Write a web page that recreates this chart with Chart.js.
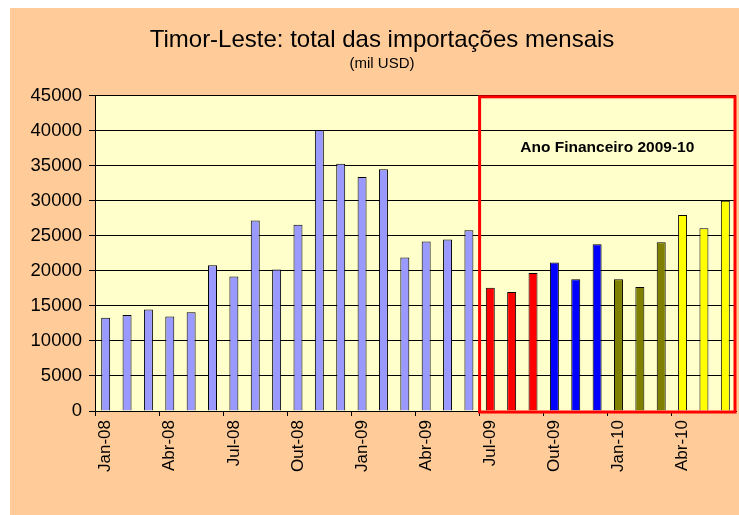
<!DOCTYPE html>
<html>
<head>
<meta charset="utf-8">
<script src="https://cdn.jsdelivr.net/npm/chart.js@4/dist/chart.umd.min.js"></script>
<style>
    html, body { margin: 0; padding: 0; background: #FFFFFF; overflow: hidden; }
    #wrap { position: absolute; left: 10px; top: 8px; width: 729px; height: 507px; background: #FFCC99; }
</style>
</head>
<body>
<div id="wrap"><canvas id="importChart"></canvas></div>
<script>
/*----------------------------------------------------------------*/
const months = ["Jan-08", "Fev-08", "Mar-08", "Abr-08", "Mai-08", "Jun-08", "Jul-08", "Ago-08", "Set-08", "Out-08", "Nov-08", "Dez-08",
    "Jan-09", "Fev-09", "Mar-09", "Abr-09", "Mai-09", "Jun-09", "Jul-09", "Ago-09", "Set-09", "Out-09", "Nov-09", "Dez-09",
    "Jan-10", "Fev-10", "Mar-10", "Abr-10", "Mai-10", "Jun-10"];
const imports = [13300, 13700, 14500, 13500, 14100, 20800, 19200, 27200, 20200, 26600, 40100, 35300,
    33400, 34500, 21900, 24200, 24500, 25800, 17600, 17000, 19700, 21200, 18800, 23800,
    18800, 17700, 24100, 28000, 26100, 30000];
const yTicks = [0, 5000, 10000, 15000, 20000, 25000, 30000, 35000, 40000, 45000];
const fiscalStart = 18; // Jul-09
const fiscalLabel = "Ano Financeiro 2009-10";

const baseColor = "#9999FF";
const quarterColors = ["#FF0000", "#0000FF", "#808000", "#FFFF00"];
const barColors = imports.map((v, i) => i < fiscalStart ? baseColor : quarterColors[Math.floor((i - fiscalStart) / 3)]);

const fontFamily = "'Liberation Sans', Arial, sans-serif";

/*----------------------------------------------------------------*/
const fiscalBox = {
    id: "fiscalBox",
    afterDatasetsDraw(chart) {
        const { ctx, chartArea, scales } = chart;
        const x = scales.x, y = scales.y;
        const left = (x.getPixelForValue(fiscalStart - 1) + x.getPixelForValue(fiscalStart)) / 2;
        const right = chartArea.right - 1;
        ctx.save();
        ctx.strokeStyle = "#FF0000";
        ctx.lineWidth = 3;
        ctx.strokeRect(left, chartArea.top + 1, right - left, chartArea.bottom - chartArea.top);
        ctx.font = "bold 15.5px " + fontFamily;
        ctx.fillStyle = "#000";
        ctx.textAlign = "center";
        ctx.textBaseline = "middle";
        ctx.fillText(fiscalLabel, (left + right) / 2, y.getPixelForValue(37600));
        ctx.restore();
    }
};

const plotBg = {
    id: "plotBg",
    beforeDraw(chart) {
        const { ctx, chartArea } = chart;
        ctx.save();
        ctx.fillStyle = "#FFFFCC";
        ctx.fillRect(chartArea.left, chartArea.top, chartArea.right - chartArea.left, chartArea.bottom - chartArea.top);
        ctx.restore();
    }
};

new Chart(document.getElementById("importChart"), {
    type: "bar",
    data: {
        labels: months,
        datasets: [
            {
                label: "Importações",
                data: imports,
                backgroundColor: barColors,
                borderColor: "#000000",
                borderWidth: 1,
                barPercentage: 0.84,
                categoryPercentage: 0.5
            }
        ]
    },
    options: {
        responsive: true,
        maintainAspectRatio: false,
        animation: false,
        layout: {
            padding: { left: 18, right: 3, top: 0, bottom: 39 }
        },
        plugins: {
            legend: { display: false },
            tooltip: { enabled: false },
            title: {
                display: true,
                text: "Timor-Leste: total das importações mensais",
                color: "#000",
                font: { family: fontFamily, size: 24, weight: "normal" },
                padding: { top: 18, bottom: 0 }
            },
            subtitle: {
                display: true,
                text: "(mil USD)",
                color: "#000",
                font: { family: fontFamily, size: 15, weight: "normal" },
                padding: { top: 0, bottom: 23 }
            }
        },
        scales: {
            x: {
                offset: true,
                afterFit: (axis) => { axis.paddingRight = 0; },
                grid: {
                    offset: true,
                    drawOnChartArea: false,
                    drawTicks: true,
                    tickLength: 5,
                    color: (c) => (c.index % 3 === 0 ? "#000" : "rgba(0,0,0,0)")
                },
                border: { color: "#000", width: 1 },
                ticks: {
                    autoSkip: false,
                    maxRotation: 90,
                    minRotation: 90,
                    padding: 4,
                    color: "#000",
                    font: { family: fontFamily, size: 17 },
                    callback: function (value, index) {
                        return index % 3 === 0 ? this.getLabelForValue(value) : "";
                    }
                }
            },
            y: {
                min: 0,
                max: 45000,
                afterBuildTicks: (axis) => { axis.ticks = yTicks.map(v => ({ value: v })); },
                afterFit: (axis) => { axis.width = 67; },
                grid: { color: "#000", tickLength: 6 },
                border: { color: "#000", width: 1 },
                ticks: {
                    color: "#000",
                    padding: 7,
                    font: { family: fontFamily, size: 18.5 },
                    callback: (v) => String(v)
                }
            }
        }
    },
    plugins: [plotBg, fiscalBox]
});
/*----------------------------------------------------------------*/
</script>
</body>
</html>
